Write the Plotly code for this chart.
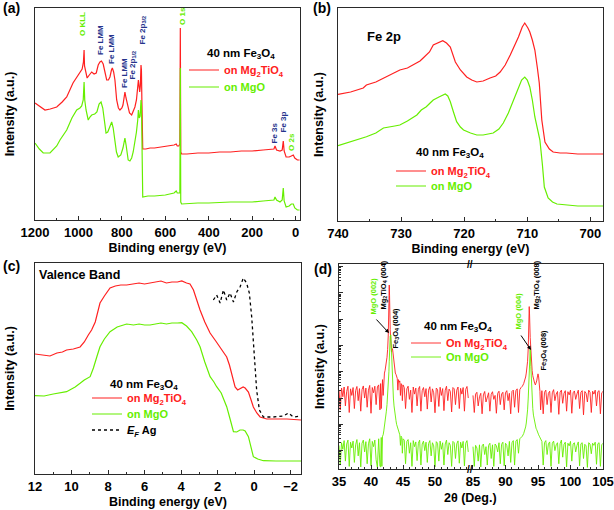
import numpy as np
import plotly.graph_objects as go

W, H = 614, 510
def px_x(p):
    return p / W
def px_y(p):
    return 1 - p / H

RED = "#ff2020"
GREEN = "#66ee00"
NAVY = "#25338c"
FONT = "Liberation Sans"
LINE = "#2a2a2a"

# ---------------- (a) XPS survey ----------------
survey_red_be = [1200, 1180, 1162, 1154, 1130, 1100, 1075, 1054, 1025, 1005, 993, 983, 977, 974, 972, 966,
                 960, 950, 939, 928, 918, 909, 901, 894, 886, 878, 870, 862, 855, 848, 844, 838, 832, 824,
                 816, 809, 800, 795, 790, 786, 781, 773, 765, 755, 748, 740, 733, 727, 724, 721, 718, 715,
                 712, 710, 708, 707, 706, 704, 690, 670, 650, 620, 600, 580, 560, 550, 545, 538, 533, 531,
                 529, 525, 500, 450, 400, 350, 300, 250, 200, 150, 120, 100, 95, 88, 72, 62, 57, 53, 44,
                 30, 20, 11, 4, -8, -18]
survey_red_int = [117, 114, 112, 110, 111, 113, 118, 123, 137, 144, 148, 151, 158, 170, 154, 146,
                  142, 145, 148, 146, 147, 155, 158, 159, 156, 148, 140, 140, 143, 150, 152, 148, 140, 120,
                  112, 110, 112, 115, 122, 128, 122, 113, 107, 105, 108, 113, 120, 132, 140, 134, 128, 134,
                  155, 150, 120, 90, 72, 71, 71, 72, 72, 73, 73, 74, 75, 76, 74, 74, 76, 192,
                  68, 66, 66, 67, 67, 68, 68, 69, 69, 70, 71, 71, 74, 70, 69, 70, 79, 69, 63,
                  63, 64, 65, 62, 60, 60]
survey_green_be = [1200, 1180, 1162, 1131, 1100, 1085, 1054, 1030, 1008, 993, 985, 978, 974, 971, 965, 955,
                   947, 939, 925, 915, 905, 896, 888, 880, 873, 865, 855, 847, 840, 832, 825, 817, 805,
                   795, 786, 780, 771, 763, 755, 748, 740, 733, 727, 724, 720, 716, 712, 710, 708, 707,
                   706, 704, 680, 650, 600, 560, 550, 545, 533, 531, 529, 525, 450, 400, 300, 200, 150,
                   120, 100, 95, 88, 72, 62, 57, 53, 44, 30, 20, 11, 4, -8, -18]
survey_green_int = [77, 71, 67, 67, 74, 80, 90, 102, 110, 112, 114, 120, 138, 120, 110, 100,
                    103, 105, 106, 108, 116, 118, 112, 95, 87, 88, 94, 98, 92, 80, 68, 63, 65,
                    72, 82, 74, 60, 59, 62, 68, 77, 88, 100, 110, 102, 104, 120, 116, 85, 50,
                    24, 23, 24, 24, 25, 27, 29, 27, 27, 152, 18, 16, 17, 17, 18, 18, 19,
                    20, 20, 23, 20, 18, 20, 32, 19, 13, 14, 16, 16, 12, 10, 10]

# ---------------- (b) Fe 2p ----------------
fe2p_red_be = [740, 738, 736, 735.5, 734, 732, 730.2, 729, 728.1, 727, 726.5, 725.5, 724.9, 724, 723.4,
               722.8, 722.2, 721.4, 720.6, 719.6, 718.8, 718, 717, 715.9, 715, 714.3, 713.5, 712.7, 712,
               711.4, 710.8, 710.4, 709.9, 709.6, 709.2, 708.8, 708.4, 708.1, 707.7, 707.2, 706.5, 705.9,
               704.8, 703.8, 702, 700, 698]
fe2p_red_int = [126.7, 129, 133, 136, 139, 145, 151, 153, 156, 160, 163, 169, 176, 179, 180.3,
                178, 174, 159, 151, 144, 141, 139, 140, 143, 145, 149, 156, 166, 175,
                184, 194, 198, 193, 189, 181, 171, 153, 138, 101, 79, 72, 69,
                68, 68, 67, 67, 67]
fe2p_green_be = [740, 738, 736, 735.5, 734, 732.8, 731, 730.2, 729, 727.5, 726.8, 726, 725.4, 724.9, 724,
                 723, 722.6, 722.2, 721.7, 721.2, 720.6, 720.1, 719, 718, 717, 715.4, 714.5, 713.8, 713,
                 712.2, 711.5, 710.9, 710.4, 710, 709.6, 709.2, 708.8, 708.4, 708, 707.6, 707.3, 706.7,
                 706, 705.3, 704, 702, 700, 698]
fe2p_green_int = [75.3, 79, 83, 84.3, 88, 93, 95, 96, 100, 106, 111, 114.3, 118, 121, 124,
                  127, 125, 119.3, 109, 99.3, 94, 91, 88, 86, 86, 88, 92, 98, 108,
                  121, 133, 141, 144, 141, 134, 121, 104, 93, 81, 56, 34, 23,
                  19, 17, 16, 15, 15, 15]

# ---------------- (c) Valence band ----------------
vb_red_be = [12, 11.6, 11.18, 10.8, 10.5, 10.27, 9.9, 9.53, 9.3, 9.08, 8.9, 8.7, 8.44, 8.2, 8.0, 7.89,
             7.6, 7.3, 6.98, 6.6, 6.3, 6.0, 5.7, 5.4, 5.1, 4.8, 4.5, 4.2, 3.96, 3.7, 3.51, 3.32, 3.15,
             2.96, 2.7, 2.41, 2.1, 1.86, 1.7, 1.5, 1.35, 1.22, 1.04, 0.9, 0.77, 0.6, 0.49, 0.31, 0.2,
             0.04, -0.15, -0.33, -0.69, -1.2, -1.8, -2.57]
vb_red_int = [120, 119, 118, 121, 122, 124, 125, 127, 132, 139, 144, 152, 171, 178, 184, 186,
              188, 189, 189, 190, 191, 190, 191, 192, 193, 191, 192, 192, 193, 191, 190, 184, 174,
              164, 152, 141, 133, 127, 122, 117, 109, 99, 87, 84, 85, 87, 86, 82, 76,
              67, 61, 57, 55, 55, 55, 54]
vb_green_be = [12, 11.5, 11, 10.6, 10.27, 10, 9.8, 9.53, 9.3, 8.98, 8.8, 8.6, 8.44, 8.2, 7.89, 7.5,
               6.98, 6.6, 6.3, 6.0, 5.7, 5.4, 5.1, 4.8, 4.5, 4.2, 3.96, 3.7, 3.42, 3.14, 2.96, 2.7,
               2.41, 2.2, 2.05, 1.8, 1.5, 1.3, 1.13, 0.95, 0.77, 0.6, 0.49, 0.31, 0.15, 0.04, -0.2,
               -0.51, -1.2, -2.57]
vb_green_int = [78.3, 78, 80, 81, 82.3, 85, 87, 90.7, 94, 97.3, 106, 118, 127.3, 135, 142.3, 147,
                150, 149, 150, 149, 149, 150, 151, 150, 151, 151, 151.3, 148, 142.3, 134, 127.3, 112,
                97.3, 92, 87.3, 81, 67.3, 54, 42.3, 42, 44, 44, 43, 37.3, 26, 17.3, 15,
                13.3, 13, 13]
ef_ag_be = [2.23, 2.05, 1.86, 1.68, 1.5, 1.32, 1.13, 0.95, 0.77, 0.59, 0.41, 0.26, 0.13, 0.0, -0.14,
            -0.29, -0.51, -1.05, -1.6, -1.88, -2.15, -2.57]
ef_ag_int = [174, 179, 171, 184, 174, 181, 172, 182, 187, 196, 191, 181, 157, 124, 84,
             64, 57, 57, 58, 61, 57, 58]

# ---------------- (d) XRD (log10 intensity) ----------------
xrd_red_l1 = [3.30, 2.55, 3.38, 3.05, 3.42, 2.70, 3.25, 3.45, 2.45, 3.35, 3.10, 3.40, 2.60, 3.28, 3.44, 2.90,
              3.36, 2.50, 3.32, 3.46, 3.00, 3.38, 2.65, 3.30, 3.48, 2.42, 3.40, 3.20, 3.45, 2.75, 3.42, 3.50, 2.55]
xrd_green_l1 = [1.20, 0.45, 1.30, 1.05, 1.38, 0.60, 1.25, 1.40, 0.40, 1.32, 1.10, 1.36, 0.55, 1.22, 1.42, 0.80,
                1.30, 0.38, 1.28, 1.40, 0.95, 1.34, 0.50, 1.26, 1.45, 0.42, 1.35, 1.15, 1.40, 0.65, 0.36, 1.45, 0.40]
tt_peak1 = [41.5, 41.6, 41.7, 41.8, 41.9, 42.0, 42.1, 42.2, 42.3, 42.4, 42.5, 42.6, 42.7, 42.8, 42.85, 42.9,
            43.0, 43.1, 43.2, 43.3, 43.35, 43.4, 43.5, 43.6, 43.7, 43.8, 43.9, 44.0, 44.1, 44.2, 44.3, 44.4,
            44.5, 44.6, 44.7, 44.8, 44.9, 45.0]
xrd_red_p1 = [3.55, 2.60, 3.65, 3.70, 3.10, 3.85, 3.95, 4.05, 4.20, 4.35, 4.55, 4.85, 5.40, 6.60, 7.30, 6.90,
              5.60, 4.95, 4.75, 4.85, 4.88, 4.80, 4.50, 4.25, 4.10, 3.95, 3.90, 3.80, 3.75, 3.30, 3.70, 3.60,
              3.65, 3.10, 3.55, 3.50, 2.90, 3.50]
xrd_green_p1 = [0.38, 1.50, 0.40, 1.55, 1.60, 1.75, 1.90, 2.05, 2.25, 2.50, 2.75, 3.05, 3.45, 4.00, 4.40, 4.80,
                5.35, 5.40, 4.70, 3.90, 3.60, 3.40, 3.00, 2.70, 2.45, 2.30, 2.15, 2.00, 1.90, 1.80, 1.75, 1.65,
                1.60, 1.20, 1.55, 1.50, 0.90, 1.45]
xrd_red_l2 = [3.40, 2.60, 3.35, 3.45, 2.95, 3.30, 2.45, 3.42, 3.15, 3.38, 2.70, 3.33, 3.44, 2.50, 3.28, 3.40,
              3.05, 3.36, 2.58, 3.30, 3.43, 2.85, 3.35, 3.20, 2.44, 3.38, 3.32, 2.68, 3.41, 3.10, 3.36, 2.52,
              3.30, 3.45, 2.90, 3.34, 3.25, 2.47, 3.40, 3.35, 2.75, 3.30, 3.42, 2.60, 3.37, 3.15, 3.40, 2.50,
              3.33, 3.44, 3.00]
xrd_green_l2 = [1.40, 0.50, 1.35, 1.42, 0.90, 1.30, 0.40, 1.38, 1.15, 1.33, 0.62, 1.28, 1.40, 0.45, 1.25, 1.36,
                1.00, 1.32, 0.55, 1.27, 1.38, 0.80, 1.30, 1.18, 0.38, 1.34, 1.28, 0.60, 1.36, 1.05, 1.30, 0.45,
                1.25, 1.40, 0.85, 1.30, 1.20, 0.40, 1.35, 1.30, 0.70, 1.26, 1.37, 0.52, 1.32, 1.10, 1.35, 0.42,
                1.28, 1.38, 0.95]
xrd_red_r1 = [3.10, 2.45, 3.15, 3.22, 2.70, 3.05, 3.18, 2.40, 3.12, 3.25, 2.85, 3.08, 3.20, 2.50, 3.14, 3.24,
              2.95, 3.10, 2.42, 3.18, 3.26, 2.75, 3.15, 3.22, 2.55, 3.20, 3.28, 2.90, 3.18, 2.40, 3.25, 3.30,
              2.65, 3.28, 3.35, 2.45, 3.32, 3.40]
xrd_green_r1 = [1.15, 0.40, 1.20, 1.10, 0.60, 1.22, 0.38, 1.18, 1.25, 0.85, 1.15, 0.45, 1.20, 1.28, 0.70, 1.22,
                0.40, 1.25, 1.18, 0.95, 1.30, 0.50, 1.24, 1.32, 0.42, 1.28, 1.20, 0.80, 1.35, 0.55, 1.30, 1.38,
                0.45, 1.36, 1.42, 0.90, 1.45, 1.50]
tt_peak2 = [92.6, 92.8, 93.0, 93.1, 93.2, 93.3, 93.4, 93.5, 93.6, 93.65, 93.7, 93.8, 93.9, 94.0, 94.1, 94.2,
            94.3, 94.4, 94.5, 94.6, 94.7, 94.8, 94.9, 95.0, 95.1, 95.2, 95.3, 95.4]
xrd_red_p2 = [3.45, 3.55, 3.70, 3.80, 3.95, 4.10, 4.40, 4.90, 5.80, 6.48, 6.20, 5.30, 4.70, 4.30, 4.05, 3.85,
              3.70, 3.60, 3.55, 3.50, 3.55, 3.65, 3.80, 3.92, 3.80, 3.50, 3.25, 2.55]
xrd_green_p2 = [1.55, 1.65, 1.80, 1.90, 2.05, 2.25, 2.55, 3.00, 3.60, 4.10, 4.50, 4.85, 4.20, 3.40, 2.90, 2.60,
                2.35, 2.20, 2.05, 1.95, 1.85, 1.80, 1.70, 1.65, 1.60, 1.55, 1.50, 1.45]
xrd_red_r2 = [3.28, 2.40, 3.22, 3.30, 2.75, 3.18, 3.26, 2.45, 3.20, 3.32, 2.90, 3.15, 3.25, 2.38, 3.22, 3.30,
              2.80, 3.18, 3.28, 2.50, 3.24, 3.12, 3.30, 2.42, 3.20, 3.27, 2.95, 3.16, 3.30, 2.60, 3.22, 3.28,
              2.36, 3.25, 3.18, 2.85, 3.30, 3.22, 2.45, 3.26, 3.15, 3.30, 2.70, 3.24, 3.28, 2.40, 3.20, 3.25]
xrd_green_r2 = [1.35, 0.45, 1.30, 1.38, 0.85, 1.25, 1.33, 0.40, 1.28, 1.36, 1.00, 1.22, 1.30, 0.50, 1.26, 1.40,
                0.75, 1.24, 1.32, 0.38, 1.28, 1.18, 1.35, 0.60, 1.25, 1.30, 0.95, 1.20, 1.33, 0.42, 1.26, 1.30,
                0.70, 1.24, 1.18, 0.36, 1.30, 1.25, 0.88, 1.28, 1.20, 1.32, 0.48, 1.26, 1.30, 0.40, 1.22, 1.28]

STEP = 0.2
def grid(start, n):
    return list(np.round(start + STEP * np.arange(n), 2))

tt_left = grid(35.0, len(xrd_red_l1)) + tt_peak1 + grid(45.2, len(xrd_red_l2))
tt_right = grid(85.0, len(xrd_red_r1)) + tt_peak2 + grid(95.6, len(xrd_red_r2))
red_left = 10 ** np.array(xrd_red_l1 + xrd_red_p1 + xrd_red_l2)
green_left = 10 ** np.array(xrd_green_l1 + xrd_green_p1 + xrd_green_l2)
red_right = 10 ** np.array(xrd_red_r1 + xrd_red_p2 + xrd_red_r2)
green_right = 10 ** np.array(xrd_green_r1 + xrd_green_p2 + xrd_green_r2)

NAME_RED = '<span style="color:%s">on Mg<sub>2</sub>TiO<sub>4</sub></span>' % RED
NAME_GREEN = '<span style="color:%s">on MgO</span>' % GREEN
NAME_RED_D = '<span style="color:%s">On Mg<sub>2</sub>TiO<sub>4</sub></span>' % RED
NAME_GREEN_D = '<span style="color:%s">On MgO</span>' % GREEN

fig = go.Figure()
lw = 1.2
fig.add_trace(go.Scatter(x=survey_red_be, y=survey_red_int, mode="lines", line=dict(color=RED, width=lw),
                         name=NAME_RED, xaxis="x", yaxis="y", legend="legend"))
fig.add_trace(go.Scatter(x=survey_green_be, y=survey_green_int, mode="lines", line=dict(color=GREEN, width=lw),
                         name=NAME_GREEN, xaxis="x", yaxis="y", legend="legend5"))
fig.add_trace(go.Scatter(x=fe2p_red_be, y=fe2p_red_int, mode="lines", line=dict(color=RED, width=lw),
                         name=NAME_RED, xaxis="x2", yaxis="y2", legend="legend2"))
fig.add_trace(go.Scatter(x=fe2p_green_be, y=fe2p_green_int, mode="lines", line=dict(color=GREEN, width=lw),
                         name=NAME_GREEN, xaxis="x2", yaxis="y2", legend="legend6"))
fig.add_trace(go.Scatter(x=vb_red_be, y=vb_red_int, mode="lines", line=dict(color=RED, width=lw),
                         name=NAME_RED, xaxis="x3", yaxis="y3", legend="legend3"))
fig.add_trace(go.Scatter(x=vb_green_be, y=vb_green_int, mode="lines", line=dict(color=GREEN, width=lw),
                         name=NAME_GREEN, xaxis="x3", yaxis="y3", legend="legend7"))
fig.add_trace(go.Scatter(x=ef_ag_be, y=ef_ag_int, mode="lines", line=dict(color="black", width=1.3, dash="dot"),
                         name="<i>E</i><sub><i>F</i></sub> Ag", xaxis="x3", yaxis="y3", legend="legend8"))
fig.add_trace(go.Scatter(x=tt_left, y=red_left, mode="lines", line=dict(color=RED, width=0.9),
                         name=NAME_RED_D, xaxis="x4", yaxis="y4", legend="legend4"))
fig.add_trace(go.Scatter(x=tt_left, y=green_left, mode="lines", line=dict(color=GREEN, width=0.9),
                         name=NAME_GREEN_D, xaxis="x4", yaxis="y4", legend="legend9"))
fig.add_trace(go.Scatter(x=tt_right, y=red_right, mode="lines", line=dict(color=RED, width=0.9),
                         showlegend=False, xaxis="x5", yaxis="y5"))
fig.add_trace(go.Scatter(x=tt_right, y=green_right, mode="lines", line=dict(color=GREEN, width=0.9),
                         showlegend=False, xaxis="x5", yaxis="y5"))

tickfont = dict(family=FONT, size=13, color="black", weight="bold")
titlefont = dict(family=FONT, size=12.5, color="black", weight="bold")

def xax(dom, rng, tickvals, minor, anchor, title=None, standoff=4):
    d = dict(domain=[px_x(dom[0]), px_x(dom[1])], range=rng, anchor=anchor, tickvals=tickvals,
             ticks="inside", ticklen=4, tickcolor=LINE, showline=True, linecolor=LINE, linewidth=1,
             mirror=True, showgrid=False, zeroline=False, tickfont=tickfont, automargin=False,
             minor=dict(dtick=minor, ticks="inside", ticklen=2, tickcolor=LINE, showgrid=False))
    if title:
        d["title"] = dict(text=title, font=titlefont, standoff=standoff)
    return d

def yax(dom, rng, anchor, standoff):
    return dict(domain=[px_y(dom[1]), px_y(dom[0])], range=rng, anchor=anchor, showticklabels=False,
                ticks="", showline=True, linecolor=LINE, linewidth=1, mirror=True, showgrid=False,
                zeroline=False, automargin=False,
                title=dict(text="Intensity (a.u.)", font=titlefont, standoff=standoff))

BE = "Binding energy (eV)"
def leg(x, y):
    return dict(bgcolor="rgba(0,0,0,0)", borderwidth=0, itemwidth=30, xanchor="left", yanchor="middle",
                font=dict(family=FONT, size=11, weight="bold", color="black"),
                itemclick=False, itemdoubleclick=False, x=px_x(x), y=px_y(y))

fig.update_layout(
    width=W, height=H, margin=dict(l=0, r=0, t=0, b=0, autoexpand=False),
    paper_bgcolor="white", plot_bgcolor="white",
    font=dict(family=FONT, color="black"),
    xaxis=xax((35, 300), [1200, -20], [1200, 1000, 800, 600, 400, 200, 0], 100, "y", BE),
    yaxis=yax((8, 220), [0, 212], "x", 16),
    xaxis2=xax((338, 603), [740, 698], [740, 730, 720, 710, 700], 5, "y2", BE),
    yaxis2=yax((8, 221), [0, 213], "x2", 10),
    xaxis3=xax((35, 301), [12, -2.57], [12, 10, 8, 6, 4, 2, 0, -2], 1, "y3", BE),
    yaxis3=yax((263, 474), [0, 211], "x3", 16),
    xaxis4=xax((339, 470), [35, 55.47], [35, 40, 45, 50], 1, "y4"),
    xaxis5=xax((470, 603), [84.54, 105], [85, 90, 95, 100, 105], 1, "y5"),
    yaxis4=dict(domain=[px_y(469), px_y(264)], type="log", range=[0.3, 8.1], anchor="x4",
                showticklabels=False, ticks="inside", ticklen=4, dtick=1, tickcolor=LINE,
                minor=dict(ticks="inside", ticklen=2, dtick="D1", tickcolor=LINE, showgrid=False),
                showline=True, linecolor=LINE, linewidth=1, mirror=False, showgrid=False, zeroline=False,
                automargin=False, title=dict(text="Intensity (a.u.)", font=titlefont, standoff=10)),
    yaxis5=dict(domain=[px_y(469), px_y(264)], type="log", range=[0.3, 8.1], anchor="x5", side="right",
                matches="y4", showticklabels=False, ticks="", showline=True, linecolor=LINE, linewidth=1,
                showgrid=False, zeroline=False, automargin=False),
    legend=leg(184, 70), legend5=leg(184, 87),
    legend2=leg(391, 171), legend6=leg(391, 186),
    legend3=leg(87, 398), legend7=leg(87, 414), legend8=leg(87, 430),
    legend4=leg(406, 343), legend9=leg(406, 357),
)

ann = []
def txt(x, y, text, size=13, color="black", xanchor="left", yanchor="middle", angle=0):
    ann.append(dict(x=px_x(x), y=px_y(y), xref="paper", yref="paper", text=text, showarrow=False,
                    xanchor=xanchor, yanchor=yanchor, textangle=angle,
                    font=dict(family=FONT, size=size, color=color, weight="bold")))

# panel letters
txt(1, 8, "(a)", 14)
txt(311, 8, "(b)", 14)
txt(1, 266, "(c)", 14)
txt(312, 269, "(d)", 14)
txt(365, 37, "Fe 2p", 13)
txt(37, 275, "Valence Band", 12.5)
txt(470, 498, "2\u03b8 (Deg.)", 12.5, xanchor="center")

# legend headers
FE3O4 = "40 nm Fe<sub>3</sub>O<sub>4</sub>"
txt(241, 54, FE3O4, 11.5, xanchor="center")
txt(450, 153, FE3O4, 11.5, xanchor="center")
txt(144, 385, FE3O4, 11.5, xanchor="center")
txt(458, 327, FE3O4, 11.5, xanchor="center")

# peak labels (a)
for x, y, t, c in [(83, 38, "O KLL", GREEN), (100, 57, "Fe LMM", NAVY), (112, 66, "Fe LMM", NAVY),
                   (124, 90, "Fe LMM", NAVY), (133, 82, "Fe 2p<sub>1/2</sub>", NAVY),
                   (142, 47, "Fe 2p<sub>3/2</sub>", NAVY), (182, 27, "O 1s", GREEN),
                   (274, 146, "Fe 3s", NAVY), (283, 135, "Fe 3p", NAVY), (291, 153, "O 2s", GREEN)]:
    txt(x, y, t, 8, c, xanchor="center", yanchor="bottom", angle=-90)

# peak labels (d)
for x, y, t, c in [(373, 317, "MgO (002)", GREEN), (383, 312, "Mg<sub>2</sub>TiO<sub>4</sub> (004)", "black"),
                   (395, 350, "Fe<sub>3</sub>O<sub>4</sub> (004)", "black"), (518, 332, "MgO (004)", GREEN),
                   (536, 312, "Mg<sub>2</sub>TiO<sub>4</sub> (008)", "black"),
                   (543, 373, "Fe<sub>3</sub>O<sub>4</sub> (008)", "black")]:
    txt(x, y, t, 7.5, c, xanchor="center", yanchor="bottom", angle=-90)

# arrows (d)
for hx, hy, tx, ty in [(389, 333, 375, 318), (531, 350, 520, 334)]:
    ann.append(dict(x=px_x(hx), y=px_y(hy), xref="paper", yref="paper", ax=tx - hx, ay=ty - hy,
                    showarrow=True, arrowhead=2, arrowsize=0.8, arrowwidth=1, arrowcolor="black", text=""))

# axis break marks
txt(470, 264, "//", 10, xanchor="center")
txt(470, 469, "//", 10, xanchor="center")

fig.update_layout(annotations=ann)
fig.write_html("out.html", config={"displayModeBar": False},
               post_script="document.body.style.margin='0';document.body.style.overflow='hidden';")
